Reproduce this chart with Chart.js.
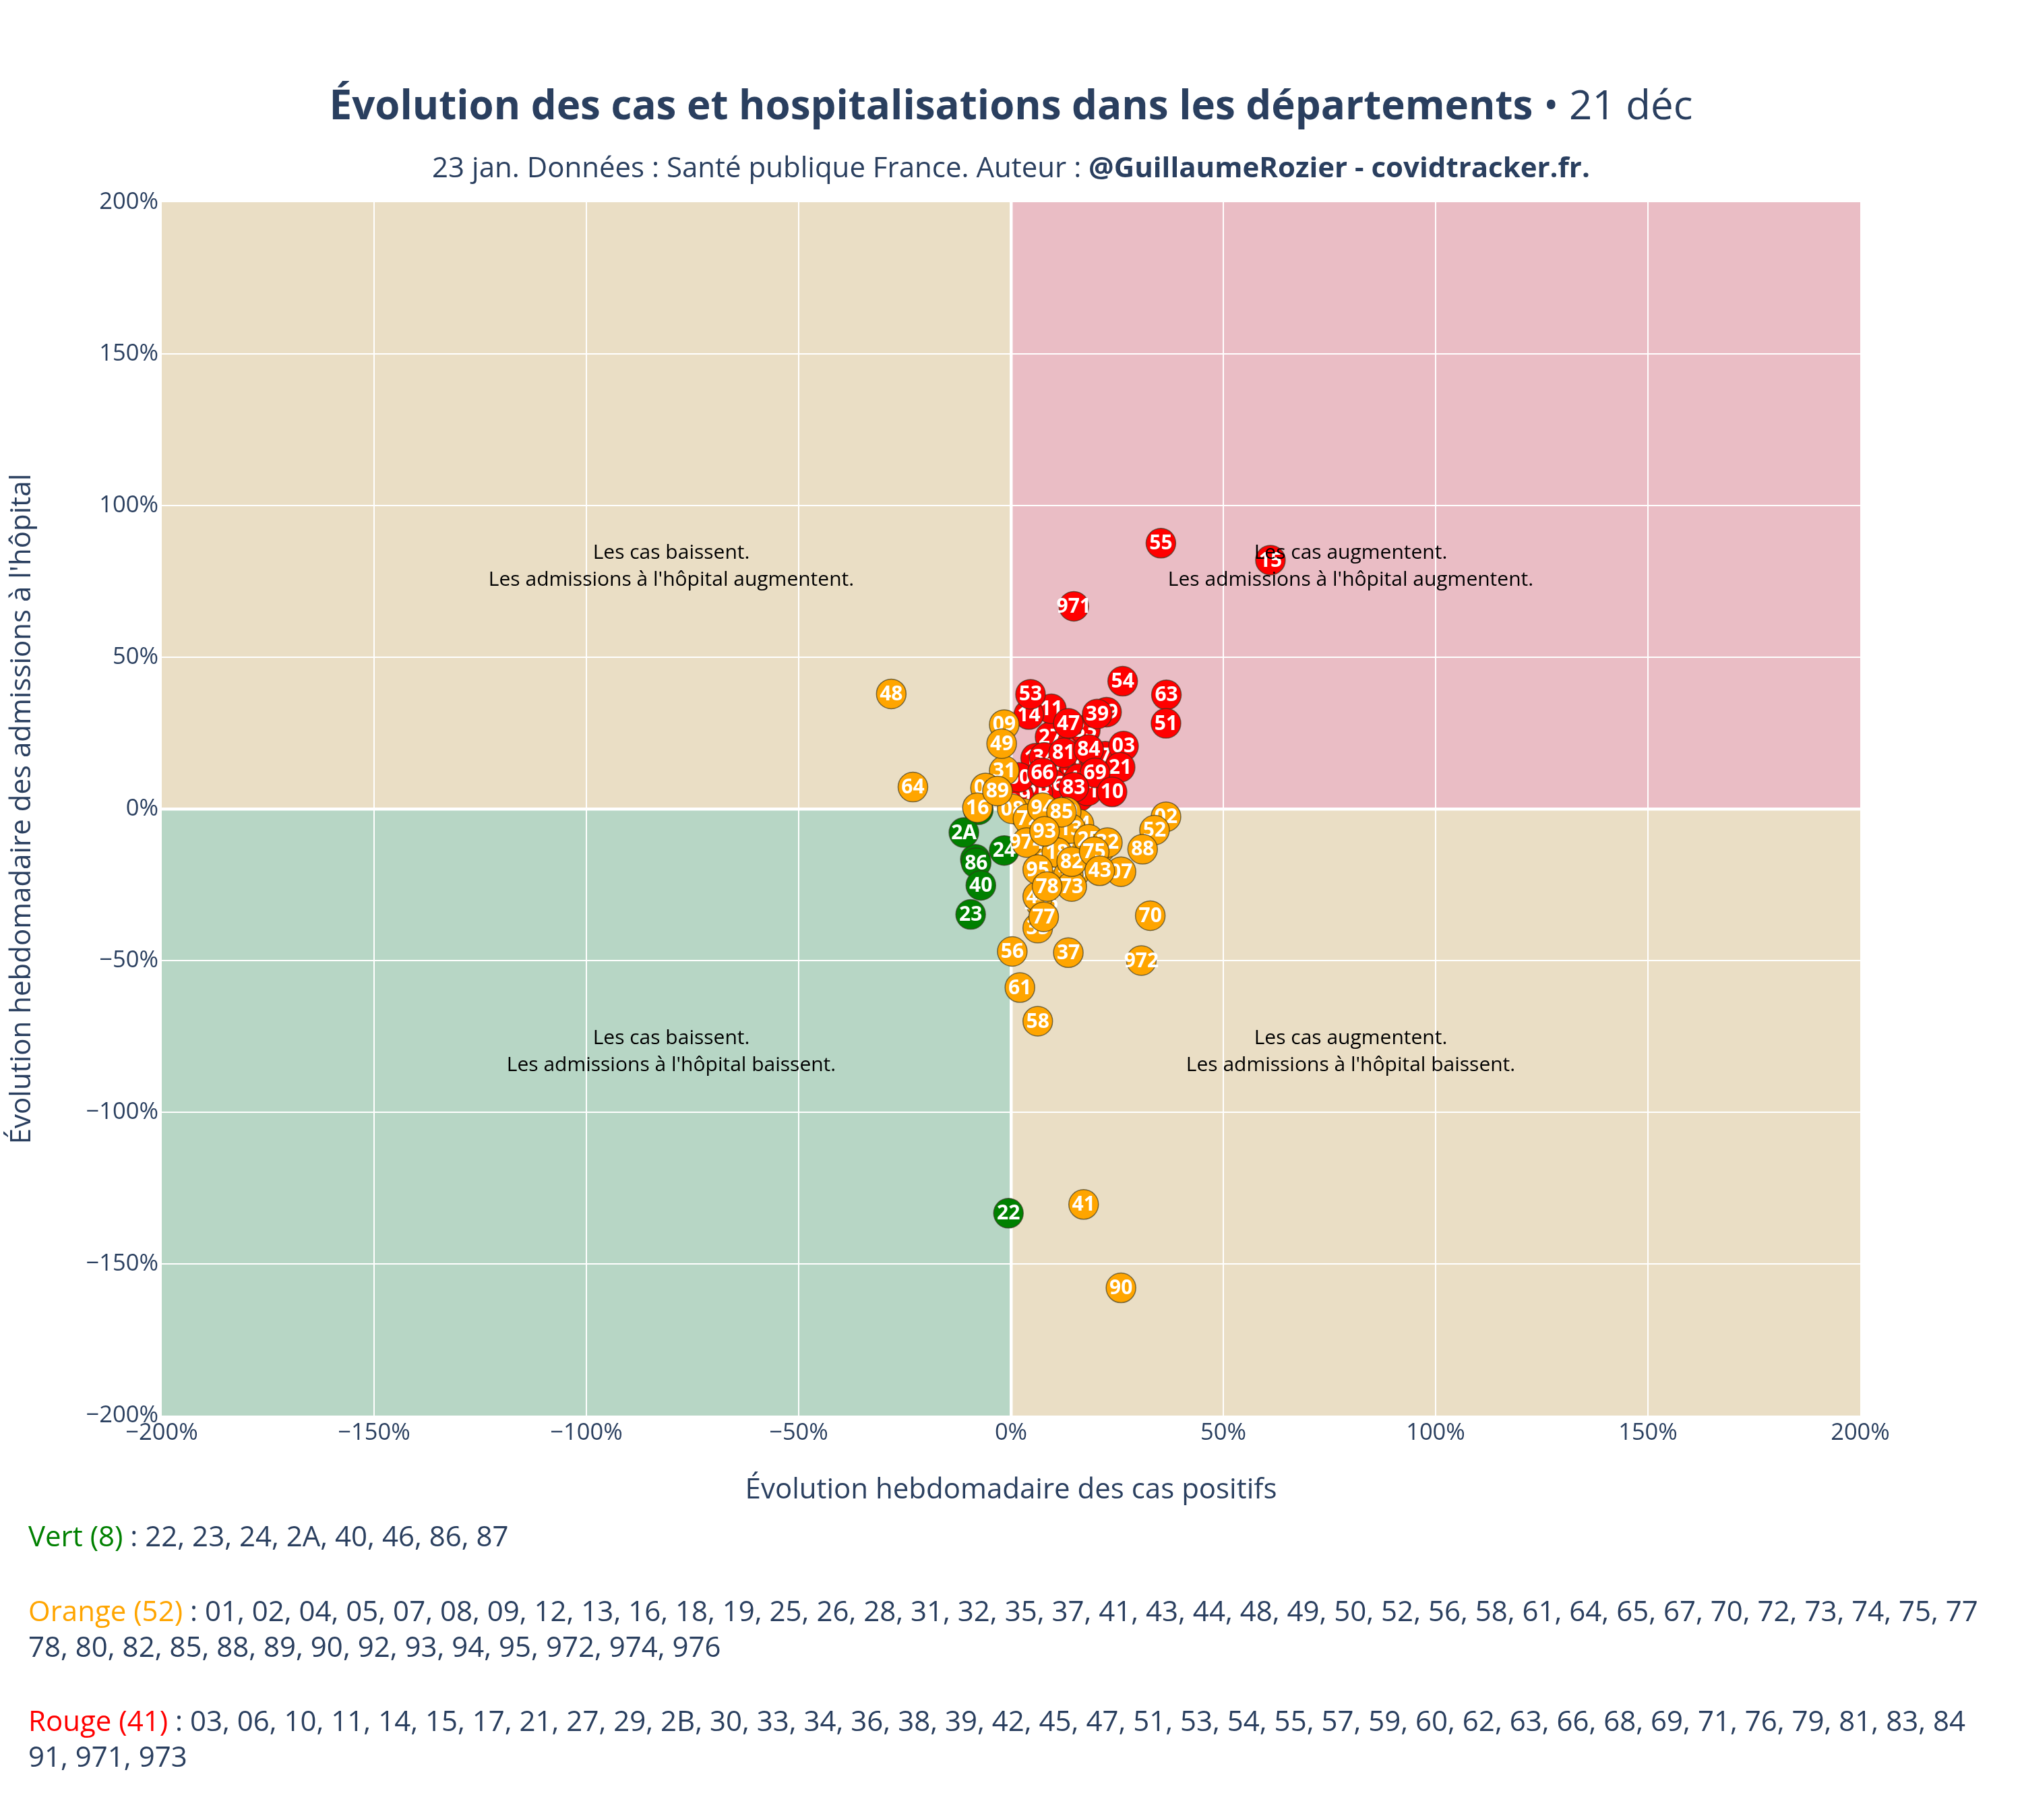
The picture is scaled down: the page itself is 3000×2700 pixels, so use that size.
<!DOCTYPE html>
<html lang="fr">
<head>
<meta charset="utf-8">
<title>Évolution des cas et hospitalisations dans les départements</title>
<script src="https://cdn.jsdelivr.net/npm/chart.js@4.4.0/dist/chart.umd.min.js"></script>
<style>
    html, body { margin: 0; padding: 0; background: #ffffff; }
    #wrap { width: 3000px; height: 2700px; }
</style>
</head>
<body>
<div id="wrap"><canvas id="myChart" width="3000" height="2700" style="width:3000px;height:2700px"></canvas></div>
<script>
// departements, in drawing order (the lists at the bottom are sorted)
const greenDeps = ['46', '87', '22', '23', '24', '2A', '86', '40'];
const greenX = [-8.4, -7.7, -0.6, -9.5, -1.6, -11.1, -8.2, -7.1];
const greenY = [-16.6, -0.3, -133.3, -34.8, -13.7, -7.8, -17.8, -25.2];

const redDeps = ['06', '30', '38', '42', '45', '57', '62', '68', '76', '79', '91', '973', '33', '27', '29',
    '17', '34', '36', '2B', '59', '71', '11', '14', '53', '47', '39', '54', '63', '51', '81', '84', '03',
    '21', '60', '66', '69', '83', '10', '55', '15', '971'];
const redX = [13, 12, 15, 16, 8, 4, 20, 15, 16, 11, 10, 22.2, 17.5, 9.2, 22.5,
    5.8, 7.8, 9.8, 6.3, 1.9, 18, 9.5, 4.2, 4.6, 13.5, 20.3, 26.3, 36.6, 36.5, 12.4, 18.3, 26.5,
    25.7, 1.9, 7.4, 19.8, 14.8, 23.8, 35.3, 61.1, 14.8];
const redY = [12, 4, 14, 10, 2, 8, 16, 22, 4, 26, 2.5, 17.4, 26, 23.7, 31.9,
    16.7, 17, 8.1, 5.2, 4.1, 5.9, 33, 31.1, 37.8, 28.2, 31.3, 42.1, 37.6, 28.2, 18.5, 19.6, 20.7,
    13.7, 10.4, 11.9, 11.9, 7.1, 5.6, 87.6, 82, 66.8];

const orangeDeps = ['01', '04', '12', '26', '28', '50', '65', '67', '74', '80', '92', '976', '31', '05',
    '08', '72', '94', '13', '974', '25', '32', '18', '19', '73', '44', '35', '09', '49', '16', '89', '85',
    '93', '82', '75', '07', '43', '95', '78', '77', '02', '52', '88', '70', '972', '56', '37', '61', '58',
    '48', '64', '41', '90'];
const orangeX = [3, 10, 16, 12, 9, 15, 11, 5, 16, 13, 21, 7, -1.6, -6.0,
    0.3, 4, 7.4, 14, 3.7, 18.3, 22.7, 10.8, 13.5, 14.3, 6.3, 6.3, -1.6, -2.2, -7.9, -3.2, 11.9,
    7.9, 14.3, 19.6, 25.9, 20.9, 6.3, 8.5, 7.7, 36.5, 33.8, 31, 32.8, 30.7, 0.3, 13.5, 2.1, 6.3,
    -28.2, -23.1, 17.1, 25.9];
const orangeY = [-1.5, -4, -12, -11, -17, -21, -22, -8, -5, -1, -13, -31, 12.6, 6.9,
    0, -3.3, 0.4, -6.5, -11.1, -10, -11.1, -14.4, -21.9, -25.6, -28.9, -39.3, 27.8, 21.5, 0.4, 5.9, -1.1,
    -7.4, -17.4, -14.1, -20.7, -20.4, -20, -25.6, -35.6, -2.6, -7, -13.3, -35.2, -50, -47, -47.4, -58.9, -70,
    37.9, 7.2, -130.4, -157.9];

const xTicks = [-200, -150, -100, -50, 0, 50, 100, 150, 200];
const yTicks = [-200, -150, -100, -50, 0, 50, 100, 150, 200];

const annoX = [-80, 80, -80, 80];
const annoY = [80, 80, -80, -80];
const annoText = [
    ['Les cas baissent.', "Les admissions à l'hôpital augmentent."],
    ['Les cas augmentent.', "Les admissions à l'hôpital augmentent."],
    ['Les cas baissent.', "Les admissions à l'hôpital baissent."],
    ['Les cas augmentent.', "Les admissions à l'hôpital baissent."]
];

const titleBold = 'Évolution des cas et hospitalisations dans les départements';
const titleRest = ' • 21 déc';
const subPlain = '23 jan. Données : Santé publique France. Auteur : ';
const subBold = '@GuillaumeRozier - covidtracker.fr.';

const textColor = '#2a3f5f';
const font = '"Open Sans"';

const groups = [
    { name: 'Vert', color: 'green', deps: greenDeps, xs: greenX, ys: greenY },
    { name: 'Rouge', color: 'red', deps: redDeps, xs: redX, ys: redY },
    { name: 'Orange', color: 'orange', deps: orangeDeps, xs: orangeX, ys: orangeY }
];

// one dataset per point, so every marker gets its label before the next marker is drawn
let datasets = [];
let pointLabels = [];
for (const g of groups) {
    g.deps.forEach(function (dep, i) {
        datasets.push({
            label: dep,
            data: [{ x: g.xs[i], y: g.ys[i] }],
            backgroundColor: g.color,
            borderColor: 'rgba(50,50,30,0.65)',
            borderWidth: 1.5,
            pointRadius: 22,
            pointHoverRadius: 22
        });
        pointLabels.push(dep);
    });
}
datasets.forEach(function (ds, k) { ds.order = datasets.length - k; });

const quadrants = {
    id: 'quadrants',
    beforeDraw(chart) {
        const { ctx, chartArea: a, scales: { x, y } } = chart;
        const x0 = x.getPixelForValue(0);
        const y0 = y.getPixelForValue(0);
        ctx.save();
        ctx.fillStyle = '#eadec5';
        ctx.fillRect(a.left, a.top, x0 - a.left, y0 - a.top);
        ctx.fillRect(x0, y0, a.right - x0, a.bottom - y0);
        ctx.fillStyle = '#eabdc5';
        ctx.fillRect(x0, a.top, a.right - x0, y0 - a.top);
        ctx.fillStyle = '#b7d6c5';
        ctx.fillRect(a.left, y0, x0 - a.left, a.bottom - y0);
        ctx.restore();
    }
};

const depLabels = {
    id: 'depLabels',
    afterDatasetDraw(chart, args) {
        const ctx = chart.ctx;
        const pt = args.meta.data[0];
        ctx.save();
        ctx.font = 'bold 30px ' + font;
        ctx.fillStyle = '#ffffff';
        ctx.textAlign = 'center';
        ctx.textBaseline = 'middle';
        ctx.fillText(pointLabels[args.index], pt.x, pt.y + 1);
        ctx.restore();
    }
};

const annotations = {
    id: 'annotations',
    afterDatasetsDraw(chart) {
        const { ctx, scales: { x, y } } = chart;
        ctx.save();
        ctx.font = '30px ' + font;
        ctx.fillStyle = '#000000';
        ctx.textAlign = 'center';
        ctx.textBaseline = 'middle';
        annoText.forEach(function (lines, i) {
            const px = x.getPixelForValue(annoX[i]);
            const py = y.getPixelForValue(annoY[i]);
            ctx.fillText(lines[0], px, py - 20);
            ctx.fillText(lines[1], px, py + 20);
        });
        ctx.restore();
    }
};

const texts = {
    id: 'texts',
    afterDraw(chart) {
        const ctx = chart.ctx;
        ctx.save();
        ctx.fillStyle = textColor;
        ctx.textBaseline = 'alphabetic';
        ctx.textAlign = 'left';

        // title
        ctx.font = 'bold 60px ' + font;
        const w1 = ctx.measureText(titleBold).width;
        ctx.font = '60px ' + font;
        const w2 = ctx.measureText(titleRest).width;
        let sx = 1500 - (w1 + w2) / 2;
        ctx.font = 'bold 60px ' + font;
        ctx.fillText(titleBold, sx, 177);
        ctx.font = '60px ' + font;
        ctx.fillText(titleRest, sx + w1, 177);

        // subtitle
        ctx.font = '42px ' + font;
        const s1 = ctx.measureText(subPlain).width;
        ctx.font = 'bold 42px ' + font;
        const s2 = ctx.measureText(subBold).width;
        sx = 1500 - (s1 + s2) / 2;
        ctx.font = '42px ' + font;
        ctx.fillText(subPlain, sx, 263);
        ctx.font = 'bold 42px ' + font;
        ctx.fillText(subBold, sx + s1, 263);

        // lists per colour
        ctx.font = '42px ' + font;
        ctx.textBaseline = 'middle';
        const listOrder = [groups[0], groups[2], groups[1]];
        const lineY = [[2282], [2393, 2446], [2556, 2609]];
        listOrder.forEach(function (g, gi) {
            const sorted = g.deps.slice().sort();
            const head = g.name + ' (' + sorted.length + ')';
            const parts = [sorted.slice(0, 38), sorted.slice(38)];
            ctx.fillStyle = g.color;
            ctx.fillText(head, 42, lineY[gi][0]);
            const hw = ctx.measureText(head).width;
            ctx.fillStyle = textColor;
            ctx.fillText(' : ' + parts[0].join(', '), 42 + hw, lineY[gi][0]);
            if (parts[1].length) {
                ctx.fillText(parts[1].join(', '), 42, lineY[gi][1]);
            }
        });
        ctx.restore();
    }
};

const pct = function (v) {
    return (v < 0 ? '\u2212' + Math.abs(v) : v) + '%';
};

const gridOpts = {
    color: function (c) { return (c.tick && Math.abs(c.tick.value) === 200) ? 'rgba(0,0,0,0)' : '#ffffff'; },
    lineWidth: function (c) { return (c.tick && c.tick.value === 0) ? 4.5 : 2; },
    drawTicks: false
};

const drawChart = function () {
    let ctx = document.getElementById('myChart').getContext('2d');

    let chart = new Chart(ctx, {
        type: 'scatter',
        data: { datasets: datasets },
        options: {
            responsive: false,
            devicePixelRatio: 1,
            animation: false,
            layout: { padding: { left: 8, top: 300, right: 240, bottom: 464 } },
            plugins: {
                legend: { display: false },
                tooltip: { enabled: false }
            },
            scales: {
                x: {
                    type: 'linear',
                    min: xTicks[0],
                    max: xTicks[xTicks.length - 1],
                    afterBuildTicks: function (s) { s.ticks = xTicks.map(function (v) { return { value: v }; }); },
                    afterFit: function (s) { s.height = 136; },
                    ticks: { callback: pct, padding: 5, color: textColor, font: { family: 'Open Sans', size: 34.5 }, maxRotation: 0 },
                    grid: gridOpts,
                    border: { display: false },
                    title: {
                        display: true,
                        text: 'Évolution hebdomadaire des cas positifs',
                        color: textColor,
                        font: { family: 'Open Sans', size: 42 },
                        padding: 0
                    }
                },
                y: {
                    type: 'linear',
                    min: yTicks[0],
                    max: yTicks[yTicks.length - 1],
                    afterBuildTicks: function (s) { s.ticks = yTicks.map(function (v) { return { value: v }; }); },
                    afterFit: function (s) { s.width = 232; },
                    ticks: { callback: pct, padding: 5, color: textColor, font: { family: 'Open Sans', size: 34.5 } },
                    grid: gridOpts,
                    border: { display: false },
                    title: {
                        display: true,
                        text: "Évolution hebdomadaire des admissions à l'hôpital",
                        color: textColor,
                        font: { family: 'Open Sans', size: 42 },
                        padding: 0
                    }
                }
            }
        },
        plugins: [quadrants, depLabels, annotations, texts]
    });
};

document.addEventListener("DOMContentLoaded", function () {
    Promise.all([
        document.fonts.load('38px "Open Sans"'),
        document.fonts.load('bold 38px "Open Sans"')
    ]).then(drawChart, drawChart);
});
</script>
</body>
</html>
